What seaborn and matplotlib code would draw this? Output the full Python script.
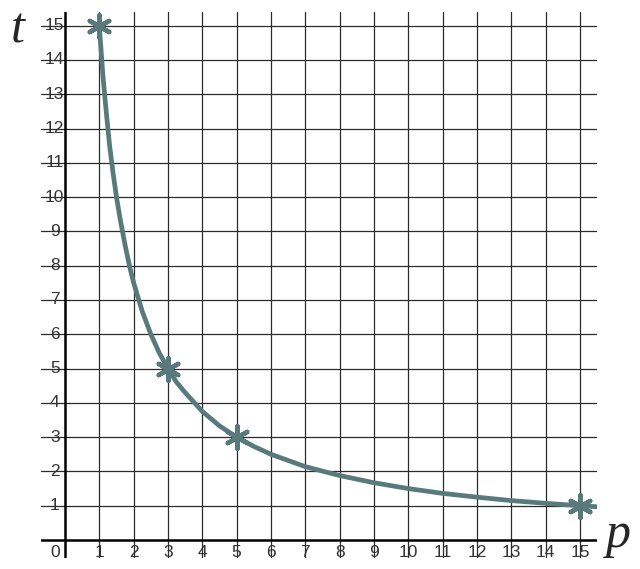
import numpy as np
import pandas as pd
import seaborn as sns
import matplotlib.pyplot as plt

# values
p_curve = [1, 1.05, 1.1, 1.2, 1.3, 1.4, 1.5, 1.6, 1.75, 1.9, 2, 2.25, 2.5, 2.75,
           3, 3.25, 3.5, 4, 4.5, 5, 5.5, 6, 7, 8, 9, 10, 11, 12, 13, 14, 15, 15.5]
t_curve = [15, 14.3, 13.6, 12.5, 11.5, 10.7, 10, 9.4, 8.6, 7.9, 7.5, 6.67, 6,
           5.45, 5, 4.6, 4.3, 3.75, 3.33, 3, 2.73, 2.5, 2.14, 1.88, 1.67, 1.5,
           1.36, 1.25, 1.15, 1.07, 1, 0.97]
p_marked = [1, 3, 5, 15]
t_marked = [15, 5, 3, 1]
x_ticks = list(range(1, 16))
y_ticks = list(range(1, 16))

curve = pd.DataFrame({'p': p_curve, 't': t_curve})
marked = pd.DataFrame({'p': p_marked, 't': t_marked})

sns.set_style("white")
fig = plt.figure(figsize=(6.4, 5.69), dpi=100)
ax = fig.add_axes([0.064, 0.019, 0.869, 0.96])
ax.set_xlim(-0.7, 15.5)
ax.set_ylim(-0.53, 15.4)
ax.axis('off')

grid_col = '#2b2b2b'
for x in x_ticks:
    ax.plot([x, x], [-0.53, 15.4], color=grid_col, lw=0.9, zorder=1)
for y in y_ticks:
    ax.plot([-0.7, 15.5], [y, y], color=grid_col, lw=0.9, zorder=1)
ax.plot([0, 0], [-0.53, 15.4], color='black', lw=1.8, zorder=2)
ax.plot([-0.7, 15.5], [0, 0], color='black', lw=1.8, zorder=2)

tick_font = dict(family='Liberation Sans', fontsize=12.5, color='#333333')
for x in x_ticks:
    ax.text(x, -0.37, str(x), ha='center', va='center', zorder=3, **tick_font)
for y in y_ticks:
    ax.text(-0.3, y, str(y), ha='center', va='center', zorder=3, **tick_font)
ax.text(-0.3, -0.37, '0', ha='center', va='center', zorder=3, **tick_font)

sns.lineplot(data=curve, x='p', y='t', ax=ax, color='#587a7d', lw=3.4,
             sort=False, zorder=4)
sns.scatterplot(data=marked, x='p', y='t', ax=ax, marker=(6, 2, 0), s=260,
                color='#587a7d', edgecolor='#587a7d', linewidth=3.2, zorder=5)

fig.text(18 / 640, 1 - 30 / 569, 't', family='Liberation Serif', style='italic',
         fontsize=36, ha='center', va='center')
fig.text(618 / 640, 1 - 535 / 569, 'p', family='Liberation Serif', style='italic',
         fontsize=36, ha='center', va='center')

plt.savefig('out.png', dpi=100)
